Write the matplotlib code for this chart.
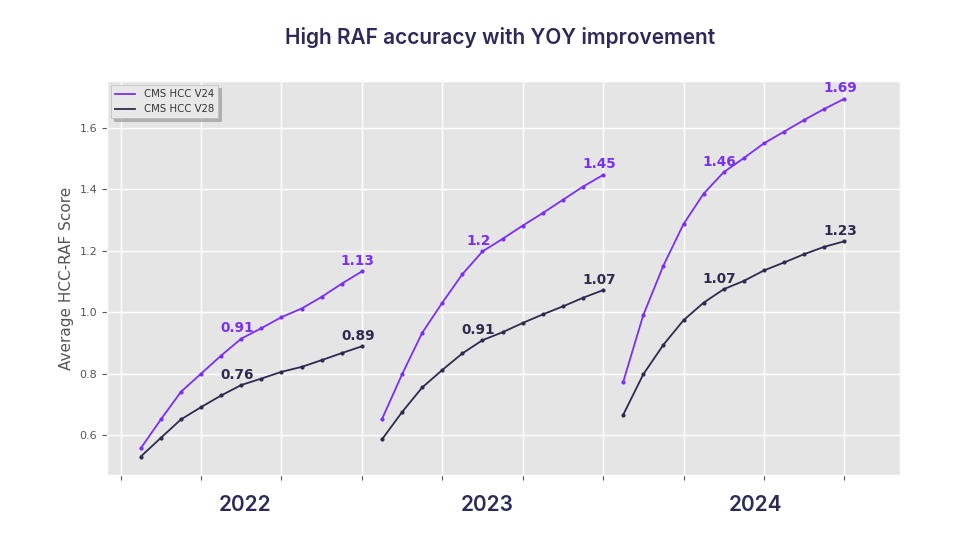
import matplotlib.pyplot as plt

plt.style.use('ggplot')
plt.rcParams['font.family'] = ['DejaVu Sans']

# monthly scores, 12 points per year
years = ["2022", "2023", "2024"]
v24 = [
    [0.557, 0.651, 0.741, 0.800, 0.859, 0.914, 0.948, 0.984, 1.012, 1.050, 1.093, 1.133],
    [0.652, 0.798, 0.933, 1.031, 1.124, 1.198, 1.239, 1.282, 1.323, 1.366, 1.409, 1.447],
    [0.773, 0.991, 1.152, 1.287, 1.386, 1.456, 1.502, 1.550, 1.588, 1.626, 1.662, 1.695],
]
v28 = [
    [0.530, 0.591, 0.651, 0.691, 0.729, 0.763, 0.784, 0.806, 0.822, 0.844, 0.867, 0.889],
    [0.586, 0.675, 0.755, 0.812, 0.866, 0.909, 0.935, 0.965, 0.993, 1.019, 1.047, 1.072],
    [0.666, 0.798, 0.894, 0.974, 1.031, 1.075, 1.102, 1.136, 1.162, 1.189, 1.213, 1.231],
]
labels24 = [(0.91, 1.13), (1.2, 1.45), (1.46, 1.69)]
labels28 = [(0.76, 0.89), (0.91, 1.07), (1.07, 1.23)]

purple = "#7B2FF2"
dark = "#2E2B4F"
navy = "#2D2A5A"

fig = plt.figure(figsize=(9.6, 5.4), dpi=100)
fig.patch.set_facecolor("white")
ax = fig.add_axes([107 / 960, 65 / 540, 793 / 960, 394 / 540])
ax.set_facecolor("#E5E5E5")

for k in range(len(years)):
    xs = list(range(1 + 12 * k, 13 + 12 * k))
    ax.plot(xs, v24[k], color=purple, lw=1.3, marker='o', ms=2)
    ax.plot(xs, v28[k], color=dark, lw=1.3, marker='o', ms=2)
    # mid-year and end-of-year labels
    for vals, lab, col in ((v24[k], labels24[k], purple), (v28[k], labels28[k], dark)):
        for idx, txt in zip((5, 11), lab):
            ax.annotate(str(txt), (xs[idx], vals[idx]), xytext=(-3, 2.5),
                        textcoords='offset points', ha='center', va='bottom',
                        fontsize=9.8, fontweight='bold', color=col)

# legend entries without markers
ax.plot([], [], color=purple, lw=1.3, label="CMS HCC V24")
ax.plot([], [], color=dark, lw=1.3, label="CMS HCC V28")

ax.set_xlim(-0.68, 38.77)
ax.set_ylim(0.47, 1.753)
ax.set_xticks(range(0, 37, 4))
ax.set_xticklabels([])
ax.set_yticks([0.6, 0.8, 1.0, 1.2, 1.4, 1.6])
ax.tick_params(axis='y', labelsize=8, labelcolor="#555555", color="#555555")
ax.tick_params(axis='x', color="#555555")
ax.grid(True, color="white", lw=1)
ax.set_ylabel("Average HCC-RAF Score", fontsize=11, color="#555555")

leg = ax.legend(loc='upper left', fontsize=7.3, fancybox=False, frameon=True,
                shadow={'color': '0.55', 'alpha': 0.6}, borderaxespad=0.4,
                handlelength=2.0)
leg.get_frame().set_facecolor("#E8E8E8")
leg.get_frame().set_edgecolor("#BBBBBB")
for t in leg.get_texts():
    t.set_color("#333333")

fig.text(500 / 960, 1 - 38 / 540, "High RAF accuracy with YOY improvement",
         ha='center', va='center', fontsize=15, fontweight='semibold',
         family='Inter', color=navy)
for yr, px in zip(years, (245, 487, 756)):
    fig.text(px / 960, 1 - 505 / 540, yr, ha='center', va='center',
             fontsize=15, fontweight='semibold', family='Inter', color=navy)

fig.savefig("out.png", dpi=100)
